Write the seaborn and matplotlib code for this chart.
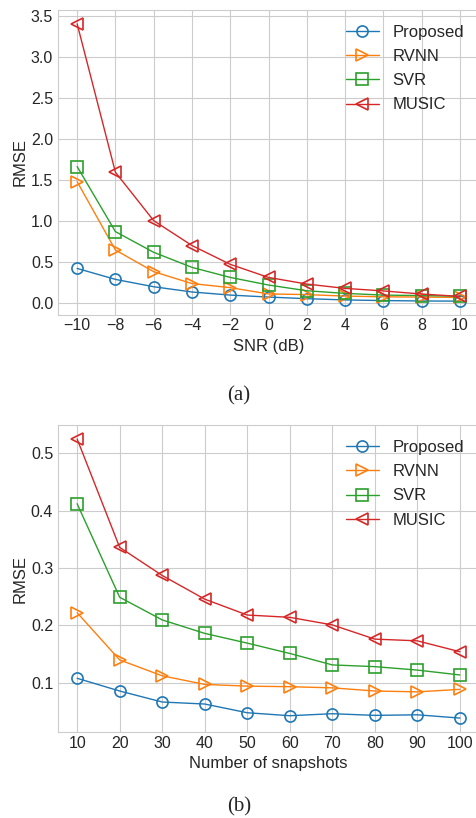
import matplotlib
matplotlib.use("Agg")
import matplotlib.pyplot as plt
import seaborn as sns

# panel (a): RMSE against SNR
snr = [-10, -8, -6, -4, -2, 0, 2, 4, 6, 8, 10]
snr_proposed = [0.42, 0.286, 0.196, 0.132, 0.094, 0.07, 0.05, 0.035, 0.027, 0.022, 0.02]
snr_rvnn = [1.48, 0.645, 0.38, 0.235, 0.185, 0.108, 0.1, 0.082, 0.073, 0.07, 0.065]
snr_svr = [1.665, 0.87, 0.617, 0.433, 0.31, 0.217, 0.147, 0.115, 0.094, 0.088, 0.08]
snr_music = [3.41, 1.596, 1.004, 0.70, 0.47, 0.31, 0.229, 0.176, 0.145, 0.107, 0.078]

# panel (b): RMSE against number of snapshots
snaps = [10, 20, 30, 40, 50, 60, 70, 80, 90, 100]
snap_proposed = [0.1077, 0.0855, 0.0663, 0.0628, 0.0476, 0.0424, 0.0459, 0.043, 0.044, 0.0383]
snap_rvnn = [0.222, 0.1397, 0.112, 0.097, 0.094, 0.093, 0.091, 0.0855, 0.084, 0.0884]
snap_svr = [0.412, 0.249, 0.2095, 0.186, 0.169, 0.151, 0.131, 0.128, 0.122, 0.1135]
snap_music = [0.525, 0.336, 0.287, 0.2457, 0.218, 0.214, 0.2008, 0.176, 0.173, 0.154]

methods = ["Proposed", "RVNN", "SVR", "MUSIC"]
markers = ["o", ">", "s", "<"]
colors = sns.color_palette("tab10", 4)

sns.set_style("whitegrid")
plt.rcParams["font.family"] = ["Liberation Sans", "DejaVu Sans"]
plt.rcParams["font.size"] = 12


def panel(ax, x, series, xlabel, xticks):
    # una línia per mètode, amb marcadors buits
    for ys, name, m, c in zip(series, methods, markers, colors):
        sns.lineplot(x=x, y=ys, ax=ax, color=c, marker=m, markersize=8,
                     markerfacecolor="none", markeredgecolor=c,
                     markeredgewidth=1.2, linewidth=1.0, label=name)
    ax.set_xticks(xticks)
    ax.tick_params(axis="x", labelsize=11.5, length=0, pad=2.5)
    ax.tick_params(axis="y", labelsize=11.5, length=0, pad=3.5)
    ax.set_xlabel(xlabel, fontsize=12, labelpad=4)
    ax.set_ylabel("RMSE", fontsize=12, labelpad=2)
    ax.legend(loc="upper right", frameon=False, fontsize=12,
              handlelength=2.0, borderaxespad=0.5, labelspacing=0.55)


fig = plt.figure(figsize=(4.77, 8.18), dpi=100)
ax1 = fig.add_axes([0.1216, 0.6149, 0.8826, 0.3729])
ax2 = fig.add_axes([0.1216, 0.1051, 0.8826, 0.3753])

panel(ax1, snr, [snr_proposed, snr_rvnn, snr_svr, snr_music], "SNR (dB)", snr)
ax1.set_yticks([0.0, 0.5, 1.0, 1.5, 2.0, 2.5, 3.0, 3.5])

panel(ax2, snaps, [snap_proposed, snap_rvnn, snap_svr, snap_music],
      "Number of snapshots", snaps)
ax2.set_yticks([0.1, 0.2, 0.3, 0.4, 0.5])

fig.text(0.501, 0.5159, "(a)", family="Liberation Serif", fontsize=15,
         ha="center", va="center")
fig.text(0.501, 0.0138, "(b)", family="Liberation Serif", fontsize=15,
         ha="center", va="center")

fig.savefig("out.png", dpi=100)
